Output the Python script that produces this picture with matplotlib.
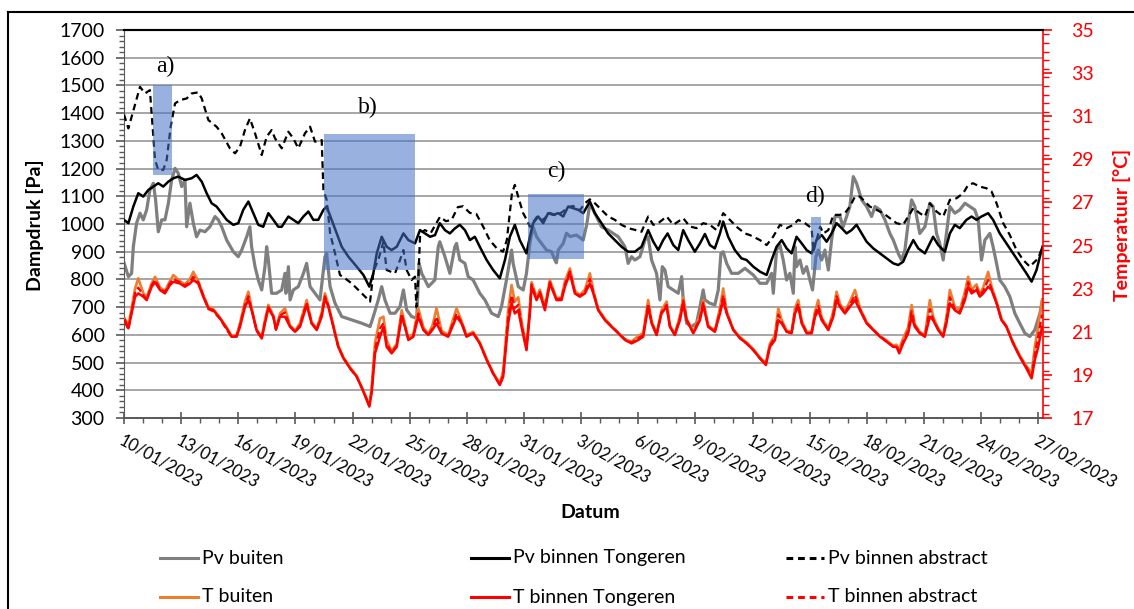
import matplotlib.pyplot as plt
from matplotlib.lines import Line2D
from matplotlib.patches import Rectangle
from matplotlib.ticker import MultipleLocator

plt.rcParams['font.family'] = ['Lato', 'DejaVu Sans']

W, H = 1134, 609

date_labels = ["10/01/2023", "13/01/2023", "16/01/2023", "19/01/2023", "22/01/2023",
               "25/01/2023", "28/01/2023", "31/01/2023", "3/02/2023", "6/02/2023",
               "9/02/2023", "12/02/2023", "15/02/2023", "18/02/2023", "21/02/2023",
               "24/02/2023", "27/02/2023"]
temp_ticks = [17, 19, 21, 23, 25, 27, 29, 31, 33, 35]

# (days since 10/01/2023, vapour pressure in Pa)
pv_buiten = [
    (0.00, 860), (0.23, 810), (0.40, 822), (0.49, 918), (0.66, 1003), (0.84, 1039), (1.01, 1015),
    (1.19, 1051), (1.36, 1123), (1.54, 1147), (1.66, 1087), (1.80, 972), (1.98, 1015), (2.15, 1015),
    (2.33, 1075), (2.50, 1159), (2.68, 1201), (2.85, 1183), (3.03, 1135), (3.20, 1159), (3.29, 990),
    (3.46, 1075), (3.64, 1003), (3.81, 954), (3.99, 978), (4.25, 972), (4.51, 990), (4.78, 1027),
    (4.95, 1015), (5.13, 990), (5.39, 942), (5.74, 900), (6.00, 882), (6.18, 906), (6.44, 954),
    (6.61, 990), (6.70, 918), (6.88, 846), (7.05, 798), (7.23, 762), (7.40, 846), (7.49, 918),
    (7.58, 870), (7.75, 750), (8.01, 750), (8.28, 762), (8.45, 822), (8.50, 750), (8.63, 846),
    (8.72, 726), (8.89, 762), (9.15, 774), (9.42, 822), (9.59, 858), (9.77, 774), (10.03, 750),
    (10.29, 726), (10.55, 882), (10.64, 894), (10.82, 774), (11.08, 714), (11.43, 666), (11.95, 654),
    (12.48, 642), (12.92, 630), (13.09, 666), (13.35, 726), (13.53, 774), (13.70, 726), (13.97, 678),
    (14.23, 678), (14.49, 702), (14.67, 762), (14.84, 690), (15.10, 666), (15.37, 660), (15.49, 858),
    (15.63, 822), (15.98, 774), (16.32, 798), (16.50, 918), (16.58, 936), (16.85, 882), (17.11, 822),
    (17.37, 918), (17.46, 930), (17.63, 870), (17.90, 858), (18.07, 810), (18.33, 798), (18.68, 750),
    (18.95, 726), (19.30, 678), (19.65, 666), (19.82, 702), (20.08, 798), (20.35, 906), (20.43, 858),
    (20.70, 774), (20.96, 762), (21.13, 822), (21.31, 930), (21.48, 990), (21.66, 954), (21.92, 930),
    (22.18, 906), (22.45, 900), (22.62, 870), (22.70, 860), (22.80, 906), (23.06, 930), (23.23, 967),
    (23.41, 955), (23.76, 960), (24.11, 942), (24.30, 1000), (24.46, 1075), (24.72, 1039), (25.07, 990),
    (25.42, 978), (25.95, 954), (26.30, 918), (26.47, 858), (26.65, 882), (26.82, 870), (27.09, 882),
    (27.35, 942), (27.52, 954), (27.70, 870), (27.96, 822), (28.14, 726), (28.26, 846), (28.40, 834),
    (28.57, 774), (28.84, 762), (29.10, 750), (29.28, 810), (29.36, 726), (29.54, 642), (29.80, 630),
    (30.06, 642), (30.24, 702), (30.41, 762), (30.50, 726), (30.76, 714), (31.02, 708), (31.20, 762),
    (31.34, 894), (31.46, 900), (31.64, 858), (31.90, 822), (32.25, 822), (32.60, 840), (33.04, 816),
    (33.39, 786), (33.74, 786), (34.00, 822), (34.09, 750), (34.26, 906), (34.44, 924), (34.61, 870),
    (34.79, 798), (34.96, 822), (35.14, 750), (35.23, 918), (35.31, 846), (35.49, 870), (35.66, 822),
    (35.84, 846), (36.01, 798), (36.15, 762), (36.33, 882), (36.45, 906), (36.63, 870), (36.80, 906),
    (36.98, 834), (37.15, 942), (37.33, 1027), (37.59, 1027), (37.76, 990), (37.94, 1027), (38.11, 1063),
    (38.29, 1171), (38.46, 1147), (38.73, 1087), (38.99, 1063), (39.25, 1027), (39.43, 1063),
    (39.69, 1051), (39.95, 1015), (40.21, 966), (40.39, 942), (40.65, 894), (40.82, 870), (41.00, 906),
    (41.17, 1003), (41.35, 1087), (41.52, 1063), (41.78, 966), (42.05, 990), (42.31, 1075), (42.48, 1063),
    (42.66, 966), (42.83, 930), (43.01, 870), (43.18, 966), (43.36, 1063), (43.62, 1039), (43.88, 1051),
    (44.15, 1075), (44.41, 1063), (44.67, 1051), (44.85, 1015), (45.02, 870), (45.20, 942), (45.46, 966),
    (45.63, 918), (45.81, 858), (45.98, 798), (46.24, 774), (46.51, 738), (46.77, 678), (47.03, 642),
    (47.30, 606), (47.56, 594), (47.82, 618), (48.09, 678), (48.22, 726),
]

pv_tongeren = [
    (0.00, 1015), (0.23, 1003), (0.49, 1063), (0.75, 1111), (1.01, 1099), (1.28, 1123), (1.54, 1135),
    (1.80, 1147), (2.06, 1135), (2.33, 1153), (2.59, 1165), (2.85, 1171), (3.20, 1159), (3.55, 1165),
    (3.81, 1177), (4.08, 1153), (4.34, 1111), (4.60, 1075), (4.86, 1063), (5.13, 1039), (5.39, 1015),
    (5.74, 997), (6.00, 1003), (6.26, 1051), (6.53, 1081), (6.79, 1039), (7.05, 997), (7.31, 990),
    (7.58, 1039), (7.84, 1015), (8.10, 990), (8.28, 990), (8.63, 1027), (8.89, 1015), (9.15, 1003),
    (9.42, 1027), (9.68, 1045), (9.94, 1015), (10.20, 1015), (10.47, 1051), (10.64, 1063), (10.90, 1015),
    (11.17, 966), (11.43, 918), (11.78, 882), (12.22, 846), (12.57, 816), (12.88, 774), (13.09, 822),
    (13.27, 894), (13.53, 954), (13.79, 918), (14.05, 906), (14.32, 918), (14.67, 966), (14.93, 942),
    (15.28, 930), (15.54, 978), (15.80, 966), (16.07, 954), (16.33, 960), (16.58, 1003), (16.85, 978),
    (17.11, 966), (17.37, 984), (17.63, 997), (17.90, 978), (18.16, 942), (18.42, 954), (18.68, 918),
    (19.04, 870), (19.38, 834), (19.73, 804), (20.00, 870), (20.26, 954), (20.52, 997), (20.78, 942),
    (21.13, 894), (21.31, 954), (21.48, 1003), (21.75, 1027), (22.01, 1003), (22.27, 1039),
    (22.53, 1033), (22.80, 1039), (23.06, 1027), (23.32, 1063), (23.58, 1057), (23.85, 1051),
    (24.11, 1039), (24.46, 1081), (24.72, 1039), (25.07, 1003), (25.42, 966), (25.77, 942), (26.12, 918),
    (26.47, 900), (26.82, 900), (27.17, 918), (27.52, 978), (27.79, 936), (28.05, 906), (28.31, 942),
    (28.54, 966), (28.84, 924), (29.10, 906), (29.36, 978), (29.62, 942), (29.97, 900), (30.24, 930),
    (30.50, 964), (30.76, 924), (31.02, 912), (31.29, 966), (31.46, 1009), (31.72, 954), (32.07, 906),
    (32.42, 876), (32.69, 870), (33.04, 846), (33.39, 828), (33.74, 816), (34.00, 870), (34.26, 918),
    (34.53, 942), (34.79, 912), (35.05, 894), (35.31, 954), (35.58, 930), (35.84, 906), (36.10, 894),
    (36.36, 942), (36.63, 960), (36.89, 936), (37.15, 966), (37.41, 1003), (37.68, 985), (37.94, 966),
    (38.20, 978), (38.46, 997), (38.73, 966), (38.99, 936), (39.34, 912), (39.69, 894), (40.04, 876),
    (40.39, 858), (40.65, 852), (40.91, 864), (41.17, 906), (41.44, 942), (41.70, 912), (42.05, 894),
    (42.31, 930), (42.48, 954), (42.75, 924), (43.10, 900), (43.36, 966), (43.62, 997), (43.88, 985),
    (44.23, 1015), (44.50, 1027), (44.76, 1015), (45.02, 1027), (45.37, 1039), (45.63, 1015),
    (45.98, 966), (46.33, 930), (46.68, 894), (47.03, 858), (47.38, 822), (47.65, 792), (47.91, 834),
    (48.22, 918),
]

pv_abstract = [
    (0.00, 1395), (0.23, 1345), (0.50, 1411), (0.84, 1495), (1.10, 1471), (1.36, 1483), (1.50, 1351),
    (1.63, 1231), (1.80, 1195), (2.06, 1195), (2.24, 1231), (2.45, 1351), (2.68, 1435), (2.94, 1447),
    (3.29, 1453), (3.55, 1471), (3.90, 1475), (4.08, 1453), (4.43, 1375), (4.86, 1351), (5.13, 1327),
    (5.56, 1273), (5.83, 1255), (6.09, 1279), (6.35, 1339), (6.61, 1381), (6.88, 1327), (7.23, 1249),
    (7.49, 1315), (7.75, 1339), (7.93, 1309), (8.28, 1273), (8.63, 1333), (8.89, 1309), (9.15, 1273),
    (9.50, 1327), (9.77, 1351), (10.03, 1297), (10.38, 1303), (10.47, 1123), (10.64, 1087), (10.82, 967),
    (11.08, 894), (11.34, 816), (11.60, 804), (11.95, 786), (12.48, 750), (12.92, 720), (13.10, 830),
    (13.35, 870), (13.62, 936), (13.79, 834), (14.23, 822), (14.49, 870), (14.67, 906), (14.84, 834),
    (15.10, 798), (15.28, 810), (15.35, 700), (15.45, 800), (15.55, 967), (15.80, 978), (16.10, 967),
    (16.59, 1026), (16.90, 1010), (17.20, 1015), (17.53, 1061), (17.80, 1064), (18.16, 1040),
    (18.50, 1036), (18.86, 990), (19.20, 942), (19.56, 913), (19.90, 900), (20.10, 942), (20.37, 1112),
    (20.52, 1141), (20.70, 1098), (20.95, 1040), (21.20, 1008), (21.31, 990), (21.68, 1026),
    (22.00, 1015), (22.36, 1040), (22.71, 1030), (23.05, 1045), (23.32, 1061), (23.58, 1065),
    (23.94, 1050), (24.20, 1075), (24.46, 1089), (24.72, 1075), (25.07, 1051), (25.42, 1027),
    (25.77, 1015), (26.12, 997), (26.47, 985), (26.82, 979), (27.17, 972), (27.52, 1027), (27.79, 997),
    (28.05, 1003), (28.49, 1027), (28.84, 997), (29.36, 1021), (29.71, 991), (30.06, 985), (30.41, 1003),
    (30.76, 997), (31.11, 978), (31.46, 1039), (31.81, 1015), (32.16, 990), (32.60, 966), (32.86, 960),
    (33.39, 942), (33.74, 924), (34.09, 955), (34.44, 997), (34.79, 985), (35.14, 997), (35.40, 1015),
    (35.75, 1003), (36.10, 985), (36.20, 900), (36.35, 940), (36.55, 990), (36.72, 966), (36.98, 978),
    (37.24, 1033), (37.59, 1033), (37.85, 1039), (38.11, 1063), (38.38, 1099), (38.64, 1099),
    (38.90, 1081), (39.16, 1063), (39.51, 1051), (39.86, 1039), (40.21, 1021), (40.56, 1003),
    (40.91, 997), (41.17, 1027), (41.44, 1057), (41.78, 1039), (42.05, 1027), (42.31, 1075),
    (42.66, 1045), (43.01, 1027), (43.36, 1087), (43.71, 1093), (44.06, 1111), (44.32, 1141),
    (44.58, 1147), (44.93, 1135), (45.28, 1129), (45.55, 1117), (45.81, 1075), (46.16, 1003),
    (46.51, 960), (46.86, 906), (47.21, 870), (47.56, 846), (47.73, 858), (48.00, 876), (48.22, 918),
]

# (days since 10/01/2023, temperature in degC)
t_tongeren = [
    (0.05, 21.54), (0.23, 21.16), (0.40, 21.85), (0.58, 22.63), (0.75, 22.78), (1.01, 22.63),
    (1.19, 22.47), (1.45, 23.09), (1.63, 23.30), (1.89, 22.94), (2.15, 22.78), (2.41, 23.17),
    (2.59, 23.32), (2.94, 23.24), (3.20, 23.09), (3.46, 23.24), (3.64, 23.40), (3.90, 23.24),
    (4.16, 22.63), (4.43, 22.09), (4.69, 22.00), (5.04, 21.62), (5.39, 21.16), (5.65, 20.77),
    (5.91, 20.77), (6.09, 21.23), (6.35, 22.16), (6.53, 22.47), (6.70, 22.00), (6.96, 21.08),
    (7.23, 20.69), (7.40, 21.39), (7.58, 22.09), (7.84, 21.70), (7.98, 21.10), (8.19, 21.70),
    (8.45, 21.70), (8.72, 21.23), (8.98, 21.00), (9.24, 21.23), (9.59, 22.24), (9.85, 21.39),
    (10.12, 21.08), (10.38, 21.70), (10.55, 22.55), (10.73, 22.16), (10.99, 21.23), (11.25, 20.30),
    (11.52, 19.77), (11.87, 19.30), (12.22, 18.92), (12.57, 18.22), (12.88, 17.53), (13.00, 18.15),
    (13.18, 20.00), (13.44, 20.77), (13.62, 21.23), (13.79, 20.30), (14.05, 20.00), (14.32, 20.30),
    (14.58, 21.70), (14.75, 21.23), (14.93, 20.62), (15.19, 20.77), (15.45, 21.70), (15.72, 21.08),
    (15.98, 20.85), (16.20, 21.10), (16.41, 21.39), (16.67, 20.93), (17.02, 20.77), (17.46, 21.70),
    (17.72, 21.39), (17.98, 20.77), (18.33, 20.93), (18.68, 20.46), (19.04, 19.69), (19.38, 19.07),
    (19.73, 18.53), (19.91, 18.92), (20.17, 21.39), (20.35, 22.32), (20.52, 21.85), (20.70, 22.00),
    (20.87, 21.23), (21.13, 20.15), (21.31, 21.85), (21.40, 23.09), (21.66, 22.47), (21.83, 22.78),
    (22.10, 22.00), (22.36, 23.24), (22.71, 22.47), (22.97, 22.47), (23.15, 23.09), (23.41, 23.71),
    (23.67, 22.78), (23.93, 22.63), (24.20, 22.78), (24.46, 23.24), (24.64, 22.78), (24.90, 22.00),
    (25.25, 21.54), (25.60, 21.23), (25.95, 20.93), (26.30, 20.62), (26.65, 20.46), (27.00, 20.62),
    (27.26, 20.77), (27.52, 22.16), (27.70, 21.39), (27.96, 20.85), (28.22, 21.85), (28.49, 22.16),
    (28.66, 21.23), (28.92, 20.85), (29.19, 21.54), (29.36, 22.32), (29.54, 21.54), (29.89, 20.93),
    (30.24, 21.54), (30.41, 22.24), (30.67, 21.23), (31.02, 21.00), (31.29, 21.85), (31.46, 22.47),
    (31.64, 21.85), (31.99, 21.08), (32.34, 20.70), (32.69, 20.46), (33.04, 20.15), (33.39, 19.77),
    (33.70, 19.46), (33.91, 20.30), (34.18, 20.62), (34.35, 21.54), (34.53, 21.39), (34.79, 21.00),
    (35.05, 20.93), (35.23, 21.85), (35.40, 22.16), (35.58, 21.39), (35.84, 20.93), (36.10, 20.93),
    (36.28, 21.70), (36.45, 22.00), (36.63, 21.54), (36.98, 21.08), (37.24, 21.70), (37.41, 22.47),
    (37.59, 22.16), (37.85, 21.85), (38.11, 22.16), (38.38, 22.47), (38.64, 22.00), (38.99, 21.39),
    (39.34, 21.08), (39.69, 20.77), (40.04, 20.54), (40.39, 20.30), (40.56, 20.30), (40.70, 20.00),
    (40.91, 20.46), (41.17, 20.93), (41.35, 21.70), (41.52, 21.23), (41.78, 20.93), (42.05, 20.77),
    (42.31, 21.70), (42.48, 21.54), (42.75, 21.08), (43.01, 20.77), (43.18, 21.39), (43.36, 22.32),
    (43.62, 22.00), (43.88, 21.85), (44.15, 22.47), (44.32, 23.09), (44.50, 22.78), (44.76, 22.94),
    (44.93, 22.63), (45.11, 22.78), (45.37, 23.09), (45.55, 22.94), (45.81, 22.32), (46.07, 21.54),
    (46.33, 21.23), (46.68, 20.46), (47.03, 19.84), (47.38, 19.30), (47.65, 18.84), (47.82, 19.69),
    (48.00, 20.30), (48.20, 21.23),
]

t_buiten = [
    (0.05, 21.60), (0.23, 21.30), (0.40, 22.10), (0.58, 23.00), (0.75, 23.48), (1.01, 22.80),
    (1.19, 22.60), (1.45, 23.25), (1.63, 23.55), (1.89, 23.05), (2.15, 22.90), (2.41, 23.35),
    (2.59, 23.63), (2.94, 23.35), (3.20, 23.20), (3.46, 23.45), (3.64, 23.78), (3.90, 23.35),
    (4.16, 22.70), (4.43, 22.15), (4.69, 22.05), (5.04, 21.65), (5.39, 21.20), (5.65, 20.80),
    (5.91, 20.85), (6.09, 21.40), (6.35, 22.40), (6.53, 22.86), (6.70, 22.10), (6.96, 21.10),
    (7.23, 20.75), (7.40, 21.55), (7.58, 22.25), (7.84, 21.75), (7.98, 21.15), (8.19, 21.85),
    (8.45, 22.09), (8.72, 21.30), (8.98, 21.05), (9.24, 21.40), (9.59, 22.47), (9.85, 21.45),
    (10.12, 21.15), (10.38, 21.90), (10.55, 22.78), (10.73, 22.25), (10.99, 21.30), (11.25, 20.35),
    (11.52, 19.80), (11.87, 19.35), (12.22, 18.95), (12.57, 18.25), (12.88, 17.60), (13.00, 18.40),
    (13.18, 20.50), (13.44, 21.62), (13.62, 21.70), (13.79, 20.60), (14.05, 20.10), (14.32, 20.45),
    (14.58, 22.00), (14.75, 21.35), (14.93, 20.70), (15.19, 20.90), (15.45, 22.09), (15.72, 21.20),
    (15.98, 20.90), (16.20, 21.30), (16.41, 22.09), (16.67, 21.05), (17.02, 20.85), (17.46, 22.09),
    (17.72, 21.50), (17.98, 20.85), (18.33, 21.00), (18.68, 20.50), (19.04, 19.75), (19.38, 19.10),
    (19.73, 18.60), (19.91, 19.20), (20.17, 22.00), (20.35, 23.17), (20.52, 22.40), (20.70, 22.60),
    (20.87, 21.50), (21.13, 20.30), (21.31, 22.20), (21.40, 23.30), (21.66, 22.60), (21.83, 22.95),
    (22.10, 22.20), (22.36, 23.40), (22.71, 22.55), (22.97, 22.60), (23.15, 23.35), (23.41, 23.94),
    (23.67, 22.90), (23.93, 22.70), (24.20, 22.95), (24.46, 23.71), (24.64, 22.90), (24.90, 22.05),
    (25.25, 21.60), (25.60, 21.25), (25.95, 20.95), (26.30, 20.65), (26.65, 20.55), (27.00, 20.80),
    (27.26, 20.95), (27.52, 22.47), (27.70, 21.50), (27.96, 20.90), (28.22, 22.00), (28.49, 22.40),
    (28.66, 21.30), (28.92, 20.90), (29.19, 21.75), (29.36, 22.60), (29.54, 21.60), (29.89, 21.00),
    (30.24, 21.75), (30.41, 22.47), (30.67, 21.30), (31.02, 21.05), (31.29, 22.10), (31.46, 23.01),
    (31.64, 21.95), (31.99, 21.10), (32.34, 20.75), (32.69, 20.50), (33.04, 20.20), (33.39, 19.80),
    (33.70, 19.55), (33.91, 20.45), (34.18, 20.85), (34.35, 22.09), (34.53, 21.55), (34.79, 21.05),
    (35.05, 21.00), (35.23, 22.10), (35.40, 22.47), (35.58, 21.50), (35.84, 21.00), (36.10, 21.00),
    (36.28, 21.95), (36.45, 22.47), (36.63, 21.65), (36.98, 21.15), (37.24, 21.95), (37.41, 22.86),
    (37.59, 22.30), (37.85, 21.95), (38.11, 22.40), (38.38, 22.94), (38.64, 22.10), (38.99, 21.45),
    (39.34, 21.10), (39.69, 20.80), (40.04, 20.60), (40.39, 20.35), (40.56, 20.40), (40.70, 20.20),
    (40.91, 20.70), (41.17, 21.20), (41.35, 22.24), (41.52, 21.35), (41.78, 21.00), (42.05, 20.85),
    (42.31, 22.47), (42.48, 21.70), (42.75, 21.15), (43.01, 20.85), (43.18, 21.70), (43.36, 22.94),
    (43.62, 22.15), (43.88, 22.00), (44.15, 22.85), (44.32, 23.55), (44.50, 22.95), (44.76, 23.20),
    (44.93, 22.75), (45.11, 23.05), (45.37, 23.78), (45.55, 23.10), (45.81, 22.40), (46.07, 21.60),
    (46.33, 21.25), (46.68, 20.50), (47.03, 19.90), (47.38, 19.40), (47.65, 19.10), (47.82, 20.30),
    (48.00, 21.30), (48.20, 22.47),
]

t_abstract = [
    (0.05, 21.45), (0.23, 21.10), (0.40, 21.95), (0.58, 22.80), (0.75, 23.05), (1.01, 22.70),
    (1.19, 22.50), (1.45, 23.15), (1.63, 23.40), (1.89, 23.00), (2.15, 22.85), (2.41, 23.25),
    (2.59, 23.45), (2.94, 23.30), (3.20, 23.15), (3.46, 23.30), (3.64, 23.55), (3.90, 23.30),
    (4.16, 22.70), (4.43, 22.05), (4.69, 21.95), (5.04, 21.60), (5.39, 21.10), (5.65, 20.75),
    (5.91, 20.80), (6.09, 21.30), (6.35, 22.25), (6.53, 22.65), (6.70, 22.05), (6.96, 21.05),
    (7.23, 20.70), (7.40, 21.45), (7.58, 22.15), (7.84, 21.70), (7.98, 21.10), (8.19, 21.75),
    (8.45, 21.90), (8.72, 21.25), (8.98, 21.00), (9.24, 21.30), (9.59, 22.35), (9.85, 21.40),
    (10.12, 21.10), (10.38, 21.80), (10.55, 22.65), (10.73, 22.20), (10.99, 21.25), (11.25, 20.30),
    (11.52, 19.80), (11.87, 19.30), (12.22, 18.90), (12.57, 18.25), (12.88, 17.58), (13.00, 18.25),
    (13.18, 20.20), (13.44, 21.15), (13.62, 21.40), (13.79, 20.45), (14.05, 20.05), (14.32, 20.35),
    (14.58, 21.85), (14.75, 21.25), (14.93, 20.65), (15.19, 20.80), (15.45, 21.85), (15.72, 21.10),
    (15.98, 20.85), (16.20, 21.15), (16.41, 21.70), (16.67, 20.95), (17.02, 20.80), (17.46, 21.85),
    (17.72, 21.45), (17.98, 20.80), (18.33, 20.95), (18.68, 20.45), (19.04, 19.70), (19.38, 19.05),
    (19.73, 18.55), (19.91, 19.00), (20.17, 21.70), (20.35, 22.70), (20.52, 22.10), (20.70, 22.25),
    (20.87, 21.35), (21.13, 20.20), (21.31, 22.00), (21.40, 23.20), (21.66, 22.50), (21.83, 22.85),
    (22.10, 22.10), (22.36, 23.30), (22.71, 22.50), (22.97, 22.55), (23.15, 23.20), (23.41, 23.80),
    (23.67, 22.85), (23.93, 22.65), (24.20, 22.85), (24.46, 23.45), (24.64, 22.85), (24.90, 22.00),
    (25.25, 21.55), (25.60, 21.25), (25.95, 20.95), (26.30, 20.65), (26.65, 20.50), (27.00, 20.70),
    (27.26, 20.85), (27.52, 22.30), (27.70, 21.45), (27.96, 20.85), (28.22, 21.90), (28.49, 22.25),
    (28.66, 21.25), (28.92, 20.85), (29.19, 21.65), (29.36, 22.45), (29.54, 21.55), (29.89, 20.95),
    (30.24, 21.65), (30.41, 22.35), (30.67, 21.25), (31.02, 21.00), (31.29, 21.95), (31.46, 22.70),
    (31.64, 21.90), (31.99, 21.10), (32.34, 20.70), (32.69, 20.45), (33.04, 20.15), (33.39, 19.75),
    (33.70, 19.50), (33.91, 20.35), (34.18, 20.75), (34.35, 21.80), (34.53, 21.45), (34.79, 21.00),
    (35.05, 20.95), (35.23, 21.95), (35.40, 22.30), (35.58, 21.45), (35.84, 20.95), (36.10, 20.95),
    (36.28, 21.80), (36.45, 22.20), (36.63, 21.60), (36.98, 21.10), (37.24, 21.80), (37.41, 22.65),
    (37.59, 22.20), (37.85, 21.90), (38.11, 22.25), (38.38, 22.70), (38.64, 22.05), (38.99, 21.40),
    (39.34, 21.10), (39.69, 20.80), (40.04, 20.55), (40.39, 20.30), (40.56, 20.35), (40.70, 20.10),
    (40.91, 20.55), (41.17, 21.05), (41.35, 21.95), (41.52, 21.30), (41.78, 20.95), (42.05, 20.80),
    (42.31, 22.05), (42.48, 21.60), (42.75, 21.10), (43.01, 20.80), (43.18, 21.55), (43.36, 22.60),
    (43.62, 22.05), (43.88, 21.90), (44.15, 22.65), (44.32, 23.30), (44.50, 22.85), (44.76, 23.05),
    (44.93, 22.70), (45.11, 22.90), (45.37, 23.40), (45.55, 23.00), (45.81, 22.35), (46.07, 21.55),
    (46.33, 21.25), (46.68, 20.50), (47.03, 19.85), (47.38, 19.35), (47.65, 18.95), (47.82, 19.95),
    (48.00, 20.80), (48.20, 21.80),
]

# highlighted periods: (day start, day end, Pa low, Pa high)
box_spans = {"a)": (1.52, 2.52, 1177, 1500), "b)": (10.50, 15.30, 834, 1324),
             "c)": (21.20, 24.15, 873, 1107), "d)": (36.06, 36.60, 834, 1024)}
box_text_at = {"a)": (2.15, 1567), "b)": (12.8, 1422), "c)": (22.7, 1190), "d)": (36.3, 1098)}


def unzip(pairs):
    xs, ys = zip(*pairs)
    return list(xs), list(ys)


fig = plt.figure(figsize=(W / 100, H / 100), dpi=100)
ax = fig.add_axes([124 / W, 1 - 418 / H, 919 / W, 388 / H])
ax2 = ax.twinx()

GRAY, ORANGE, RED = "#7f7f7f", "#ED7D31", "#FF0000"

ax.plot(*unzip(pv_buiten), color=GRAY, lw=2.3, zorder=2)
ax.plot(*unzip(pv_tongeren), color="black", lw=1.8, zorder=3)
ax.plot(*unzip(pv_abstract), color="black", lw=1.6, ls=(0, (3, 2)), zorder=3)

ax2.plot(*unzip(t_buiten), color=ORANGE, lw=1.9, zorder=2)
ax2.plot(*unzip(t_abstract), color=RED, lw=1.6, ls=(0, (3, 1.5)), zorder=3)
ax2.plot(*unzip(t_tongeren), color=RED, lw=1.8, zorder=3)

for name, (x0, x1, y0, y1) in box_spans.items():
    ax.add_patch(Rectangle((x0, y0), x1 - x0, y1 - y0, facecolor="#4472C4",
                           alpha=0.55, lw=0, zorder=5))
    tx, ty = box_text_at[name]
    ax.text(tx, ty, name, ha="center", va="center", fontsize=17,
            family="Liberation Serif", zorder=6)

ax.set_xlim(0, 48.25)
ax.set_ylim(300, 1700)
ax2.set_ylim(17, 35)

ax.yaxis.set_major_locator(MultipleLocator(100))
ax.yaxis.set_minor_locator(MultipleLocator(20))
ax.set_xticks(range(0, 49, 3))
ax.set_xticklabels(date_labels, rotation=-29, ha="left", va="top",
                   rotation_mode="anchor", fontsize=12)
ax.xaxis.set_minor_locator(MultipleLocator(1))
ax.grid(axis="y", color="#A6A6A6", lw=1.4)
ax.set_axisbelow(True)

ax.tick_params(axis="y", which="major", direction="out", length=6, width=1.2,
               color="#595959", labelsize=14, pad=8)
ax.tick_params(axis="y", which="minor", direction="out", length=3.5, width=1, color="#595959")
ax.tick_params(axis="x", which="major", direction="inout", length=9, width=1.2,
               color="#595959", pad=6)
ax.tick_params(axis="x", which="minor", direction="out", length=3.5, width=1, color="#595959")

ax2.set_yticks(temp_ticks)
ax2.yaxis.set_minor_locator(MultipleLocator(0.4))
ax2.tick_params(axis="y", which="major", direction="out", length=6.5, width=1.2,
                color=RED, labelcolor=RED, labelsize=14, pad=14)
ax2.tick_params(axis="y", which="minor", direction="out", length=4, width=1, color=RED)

for a in (ax, ax2):
    a.spines["top"].set_color("black")
    a.spines["top"].set_linewidth(1.5)
ax.spines["left"].set_color("#595959")
ax.spines["bottom"].set_color("#595959")
ax.spines["bottom"].set_linewidth(1.4)
ax.spines["right"].set_visible(False)
ax2.spines["left"].set_visible(False)
ax2.spines["bottom"].set_visible(False)
ax2.spines["right"].set_color(RED)
ax2.spines["right"].set_linewidth(1.2)

fig.text(35 / W, 1 - 225 / H, "Dampdruk [Pa]", rotation=90, ha="center", va="center",
         fontsize=14, fontweight="bold")
fig.text(1122 / W, 1 - 225 / H, "Temperatuur [°C]", rotation=90, ha="center", va="center",
         fontsize=14, fontweight="bold", color=RED)
fig.text(590 / W, 1 - 512 / H, "Datum", ha="center", va="center",
         fontsize=14, fontweight="bold")

# hand-placed legend, two rows of three
legend_items = [
    (160, 558, GRAY, "-", "Pv buiten"),
    (471, 558, "black", "-", "Pv binnen Tongeren"),
    (786, 558, "black", (0, (2.2, 1.6)), "Pv binnen abstract"),
    (160, 597, ORANGE, "-", "T buiten"),
    (471, 597, RED, "-", "T binnen Tongeren"),
    (786, 597, RED, (0, (2.2, 1.6)), "T binnen abstract"),
]
for x0, y, col, ls, lab in legend_items:
    fig.add_artist(Line2D([x0 / W, (x0 + 38) / W], [1 - y / H] * 2, color=col, lw=2.2, ls=ls))
    fig.text((x0 + 42) / W, 1 - y / H, lab, ha="left", va="center", fontsize=14)

# outer frame
fig.add_artist(Line2D([8 / W, 8 / W], [0, 1 - 12 / H], color="black", lw=1.5))
fig.add_artist(Line2D([8 / W, 1], [1 - 12 / H, 1 - 12 / H], color="black", lw=1.5))

fig.savefig("out.png", dpi=100)
